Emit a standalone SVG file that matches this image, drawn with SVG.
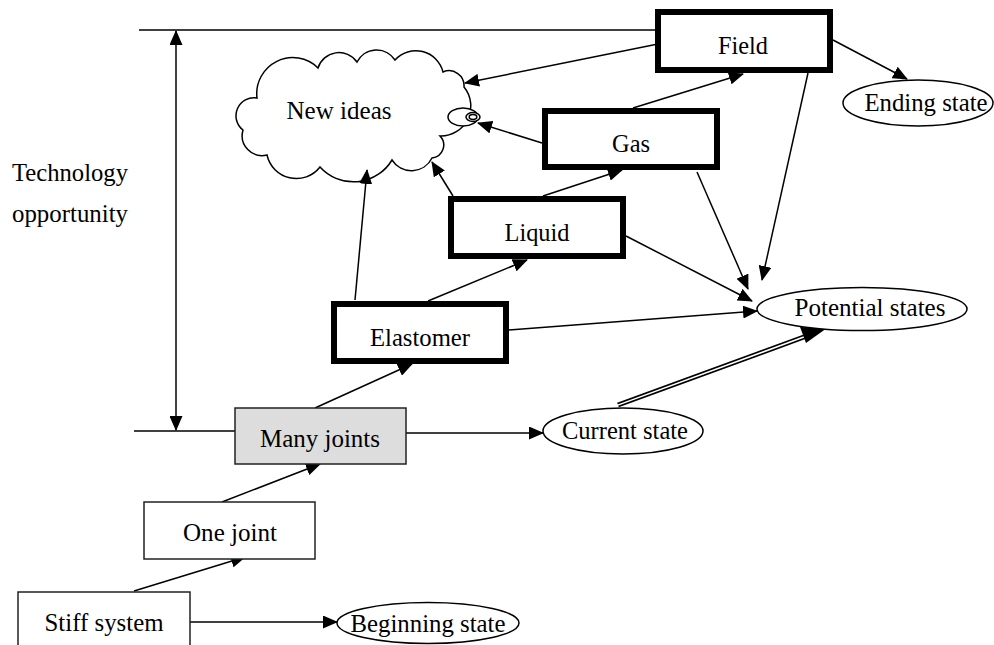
<svg xmlns="http://www.w3.org/2000/svg" width="994" height="645" viewBox="0 0 994 645">
<style>
text{font-family:"Liberation Serif","Times New Roman",serif;font-size:24.5px;fill:#000;text-anchor:middle}
.lbl{text-anchor:start}
.thick{fill:#fff;stroke:#000;stroke-width:6}
.thin{fill:#fff;stroke:#222;stroke-width:1.5}
.ell{fill:#fff;stroke:#000;stroke-width:1.5}
.ln{fill:none;stroke:#000;stroke-width:1.5}
.ar{fill:none;stroke:#000;stroke-width:1.5;marker-end:url(#ah)}
</style>
<defs>
<marker id="ah" viewBox="0 0 15 13" refX="14" refY="6.5" markerWidth="15" markerHeight="13" markerUnits="userSpaceOnUse" orient="auto-start-reverse"><path d="M0,0 L15,6.5 L0,13 z" fill="#000"/></marker>
</defs>
<rect width="994" height="645" fill="#fff"/>

<g id="technology-opportunity">
<text class="lbl" x="12" y="181" textLength="116" lengthAdjust="spacingAndGlyphs">Technology</text>
<text class="lbl" x="12" y="222" textLength="116" lengthAdjust="spacingAndGlyphs">opportunity</text>
</g>

<g id="new-ideas">
<path d="M257,98 A36,36 0 0 1 318,68 A22,22 0 0 1 357,62 A22,22 0 0 1 395,60 A28,28 0 0 1 443,72 A15,15 0 0 1 464,87 A30,30 0 0 1 440,136 A13,13 0 0 1 432,158 A23,23 0 0 1 392,160 A45,45 0 0 1 320,167 A30,30 0 0 1 267,155 A20,20 0 0 1 243,130 A18,18 0 0 1 257,98 Z" fill="#fff" stroke="#000" stroke-width="1.5"/>
<text x="339" y="119" textLength="105" lengthAdjust="spacingAndGlyphs">New ideas</text>
<ellipse cx="463" cy="117" rx="15" ry="9" class="ell"/>
<ellipse cx="473" cy="117" rx="7" ry="4.5" class="ell"/>
<ellipse cx="473" cy="117" rx="3.8" ry="2.4" class="ell"/>
</g>

<g id="connectors">
<line class="ln" x1="139" y1="30" x2="655" y2="30"/>
<line class="ln" x1="134" y1="431" x2="235" y2="431"/>
<line class="ln" x1="176" y1="31" x2="176" y2="430" marker-start="url(#ah)" marker-end="url(#ah)"/>
<line class="ar" x1="134" y1="591" x2="245" y2="557"/>
<line class="ar" x1="190" y1="622" x2="337" y2="622"/>
<line class="ar" x1="222" y1="502" x2="320" y2="464"/>
<line class="ar" x1="406" y1="433" x2="543" y2="433"/>
<line class="ar" x1="315" y1="408" x2="412" y2="364"/>
<line class="ar" x1="355" y1="300" x2="367" y2="170"/>
<line class="ar" x1="428" y1="301" x2="527" y2="260"/>
<line class="ar" x1="509" y1="330" x2="757" y2="311"/>
<line class="ar" x1="453" y1="196" x2="432" y2="162"/>
<line class="ar" x1="543" y1="196" x2="622" y2="170"/>
<line class="ar" x1="626" y1="236" x2="752" y2="301"/>
<line class="ar" x1="542" y1="143" x2="478" y2="123"/>
<line class="ar" x1="633" y1="108" x2="743" y2="74"/>
<line class="ar" x1="697" y1="172" x2="748" y2="289"/>
<line class="ar" x1="808" y1="73" x2="762" y2="280"/>
<line class="ar" x1="658" y1="44" x2="465" y2="83"/>
<line class="ar" x1="833" y1="40" x2="907" y2="79"/>
<g id="double-arrow">
<line x1="618" y1="405" x2="812" y2="334" stroke="#000" stroke-width="5"/>
<line x1="617" y1="405.4" x2="814" y2="333.3" stroke="#fff" stroke-width="1.5"/>
<polygon points="827,328 806,343 800,327" fill="#000"/>
</g>
</g>

<g id="field"><rect class="thick" x="658" y="12" width="172" height="58"/><text x="743" y="54" textLength="50" lengthAdjust="spacingAndGlyphs">Field</text></g>
<g id="gas"><rect class="thick" x="545" y="111" width="172" height="56"/><text x="631" y="152" textLength="38" lengthAdjust="spacingAndGlyphs">Gas</text></g>
<g id="liquid"><rect class="thick" x="451" y="199" width="172" height="57"/><text x="537" y="241" textLength="65" lengthAdjust="spacingAndGlyphs">Liquid</text></g>
<g id="elastomer"><rect class="thick" x="334" y="304" width="172" height="57"/><text x="420" y="346" textLength="100" lengthAdjust="spacingAndGlyphs">Elastomer</text></g>
<g id="many-joints"><rect x="235" y="408" width="171" height="56" fill="#ddd" stroke="#222" stroke-width="1.5"/><text x="320" y="447" textLength="120" lengthAdjust="spacingAndGlyphs">Many joints</text></g>
<g id="one-joint"><rect class="thin" x="144" y="502" width="171" height="57"/><text x="230" y="541" textLength="94" lengthAdjust="spacingAndGlyphs">One joint</text></g>
<g id="stiff-system"><rect class="thin" x="18" y="592" width="172" height="70"/><text x="104" y="631" textLength="119" lengthAdjust="spacingAndGlyphs">Stiff system</text></g>

<g id="ending-state"><ellipse class="ell" cx="918" cy="103" rx="75" ry="23"/><text x="926" y="111" textLength="123" lengthAdjust="spacingAndGlyphs">Ending state</text></g>
<g id="potential-states"><ellipse class="ell" cx="862" cy="309" rx="105" ry="21.5"/><text x="870" y="316" textLength="151" lengthAdjust="spacingAndGlyphs">Potential states</text></g>
<g id="current-state"><ellipse class="ell" cx="623" cy="431" rx="80" ry="23"/><text x="625" y="439" textLength="126" lengthAdjust="spacingAndGlyphs">Current state</text></g>
<g id="beginning-state"><ellipse class="ell" cx="428" cy="623" rx="91" ry="20.5"/><text x="428" y="632" textLength="155" lengthAdjust="spacingAndGlyphs">Beginning state</text></g>
</svg>
